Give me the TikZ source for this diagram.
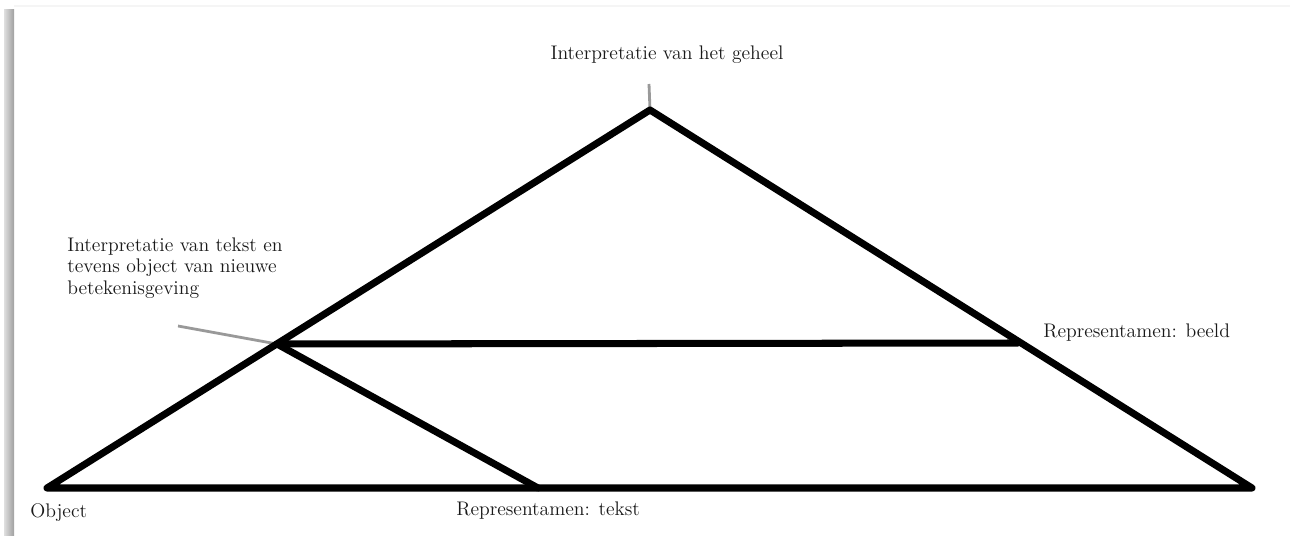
\documentclass[tikz,border=0pt]{standalone}
\usepackage{tikz}
\usetikzlibrary{positioning}

\begin{document}
\begin{tikzpicture}[x=0.02cm, y=-0.02cm,
    side/.style={line width=4pt, line cap=round, line join=round},
    leader/.style={gray!80, line width=1.6pt},
    lbl/.style={font=\fontsize{11.2}{12.4}\selectfont, inner sep=0pt, text=black!90}]
  \useasboundingbox (0,0) rectangle (1290,536);
  % page shadow on the left
  \shade[left color=gray!25, right color=gray!75] (4,10) rectangle (14,536);
  \fill[gray!8] (14,5) rectangle (1290,7);
  % corners of the triangles
  \coordinate (top) at (650,110);
  \coordinate (obj) at (47,488);
  \coordinate (rgt) at (1252,488);
  \coordinate (mid) at (277,344);
  \coordinate (bld) at (1018,343);
  \coordinate (tks) at (538,488);
  \coordinate (topend) at (649,84);
  \coordinate (midend) at (178,326);
  % labels
  \node[lbl] (geheel) at (667,55) {Interpretatie van het geheel};
  \node[lbl,align=left,anchor=west] (tekstint) at (67,268) {Interpretatie van tekst en\\tevens object van nieuwe\\betekenisgeving};
  \node[lbl,anchor=west] (beeld) at (1043,333) {Representamen: beeld};
  \node[lbl,anchor=west] (object) at (30,513) {Object};
  \node[lbl,anchor=west] (tekst) at (456,511) {Representamen: tekst};
  % lines
  \draw[leader] (topend) -- (top);
  \draw[leader] (midend) -- (mid);
  \draw[side] (obj) -- (top) -- (rgt) -- cycle;
  \draw[side] (mid) -- (bld);
  \draw[side] (mid) -- (tks);
\end{tikzpicture}
\end{document}
